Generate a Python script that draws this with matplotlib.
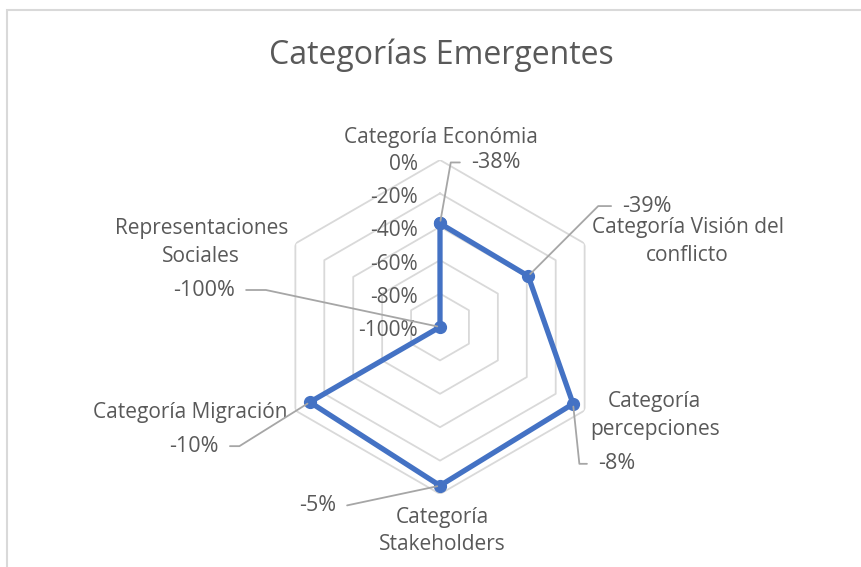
import numpy as np
import matplotlib
matplotlib.use("Agg")
import matplotlib.pyplot as plt
from matplotlib.patches import Rectangle

categories = [
    "Categoría Económia",
    "Categoría Visión del\nconflicto",
    "Categoría\npercepciones",
    "Categoría\nStakeholders",
    "Categoría Migración",
    "Representaciones\nSociales",
]
values = [-38, -39, -8, -5, -10, -100]
r_ticks = [0, -20, -40, -60, -80, -100]
r_tick_labels = ["0%", "-20%", "-40%", "-60%", "-80%", "-100%"]

TEXT = "#595959"
GRID = "#d9d9d9"
BLUE = "#4472C4"
FONT = "Open Sans"

plt.rcParams["font.family"] = [FONT, "DejaVu Sans"]

W, H = 862, 567
fig = plt.figure(figsize=(W / 100, H / 100), dpi=100)

# light frame of the chart area (top and left edges visible)
fig.patches.append(Rectangle((7 / W, -0.1), 1.2, 1 - 10 / H + 0.1, transform=fig.transFigure,
                             fill=False, edgecolor=GRID, linewidth=1.5))

cx, cy, rad = 440, 567 - 327, 167
ax = fig.add_axes([(cx - rad) / W, (cy - rad) / H, 2 * rad / W, 2 * rad / H], projection="polar")
ax.set_theta_zero_location("N")
ax.set_theta_direction(-1)
ax.set_ylim(-100, 0)
ax.grid(False)
ax.set_xticks([])
ax.set_yticks([])
ax.spines["polar"].set_visible(False)
ax.patch.set_alpha(0)

n = len(categories)
theta = np.arange(n) * 2 * np.pi / n
closed = np.append(theta, theta[0])

# hexagonal grid rings
for r in r_ticks[:-1]:
    ax.plot(closed, [r] * (n + 1), color=GRID, linewidth=1.3, zorder=1)

# radial tick labels, left of the top axis
for r, lab in zip(r_ticks, r_tick_labels):
    ax.annotate(lab, xy=(0, r), xytext=(-22, -4), textcoords="offset pixels",
                ha="right", va="center", fontsize=15, color=TEXT)

# data series
ax.plot(closed, values + [values[0]], color=BLUE, linewidth=3.8, marker="o",
        markersize=8.5, zorder=3, solid_joinstyle="round")

# category labels around the outer ring
cat_offsets = [(1, 23, "center"), (103, 2, "center"), (70, -5, "center"),
               (2, -37, "center"), (-8, -2, "right"), (-94, 1, "center")]
for t, lab, (dx, dy, ha) in zip(theta, categories, cat_offsets):
    ax.annotate(lab, xy=(t, 0), xytext=(dx, dy), textcoords="offset pixels",
                ha=ha, va="center", fontsize=15, color=TEXT, linespacing=1.4,
                annotation_clip=False)

# data labels with elbow leader lines: (text dx, dy, side, leader angle)
lbl_pos = [(31, 61, "left", 80), (94, 70, "left", 45), (25, -60, "left", -84),
           (-104, -20, "right", -168), (-91, -44, "right", -148), (-205, 37, "right", 168)]
for t, v, (dx, dy, ha, ang) in zip(theta, values, lbl_pos):
    ax.annotate(f"{v}%", xy=(t, v), xytext=(dx, dy), textcoords="offset pixels",
                ha=ha, va="center", fontsize=15.5, color=TEXT, annotation_clip=False,
                arrowprops=dict(arrowstyle="-", color="#a6a6a6", linewidth=1.3,
                                relpos=(0, 0.5) if ha == "left" else (1, 0.5),
                                connectionstyle=f"angle,angleA=0,angleB={ang},rad=0",
                                shrinkA=6, shrinkB=2))

fig.text(441 / W, 1 - 55 / H, "Categorías Emergentes", ha="center", va="center",
         fontsize=23, color=TEXT)

fig.savefig("out.png", dpi=100)
